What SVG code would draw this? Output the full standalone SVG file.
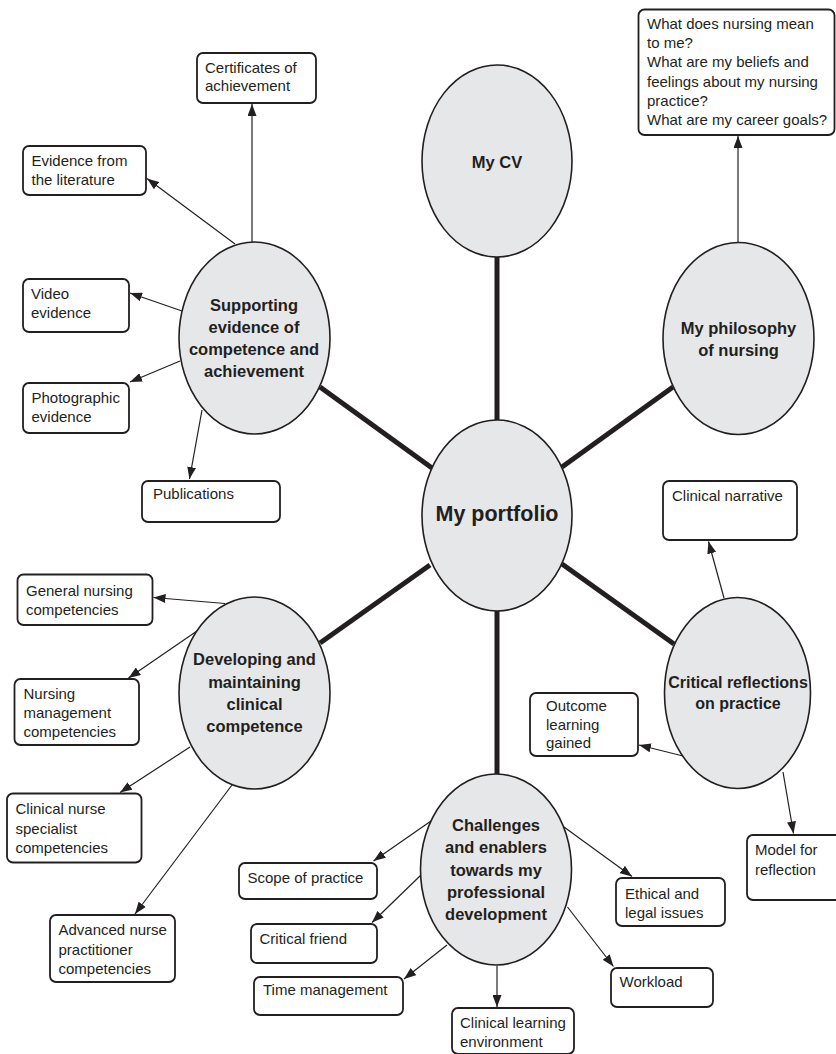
<svg xmlns="http://www.w3.org/2000/svg" width="836" height="1054" viewBox="0 0 836 1054">
<style>
.bg{fill:#ffffff}
.hub{stroke:#231f20;stroke-width:5;fill:none}
.arr{stroke:#231f20;stroke-width:1.2;fill:none;marker-end:url(#ah)}
.ell{fill:#e6e7e8;stroke:#231f20;stroke-width:1.6}
.box{fill:#ffffff;stroke:#231f20;stroke-width:1.8}
.t{font-family:"Liberation Sans",Arial,sans-serif;font-size:15px;fill:#231f20}
.b{font-family:"Liberation Sans",Arial,sans-serif;font-size:16.5px;font-weight:bold;fill:#231f20;text-anchor:middle}
.big{font-family:"Liberation Sans",Arial,sans-serif;font-size:21.5px;font-weight:bold;fill:#231f20;text-anchor:middle}
</style>
<defs>
<marker id="ah" markerUnits="userSpaceOnUse" markerWidth="12" markerHeight="9" refX="12" refY="4.5" orient="auto">
<path d="M0,0 L12,4.5 L0,9 z" fill="#231f20"/>
</marker>
</defs>
<rect class="bg" x="0" y="0" width="836" height="1054"/>
<g id="connectors">
<line class="hub" x1="497" y1="257" x2="497" y2="420"/>
<line class="hub" x1="497" y1="611" x2="497" y2="774"/>
<line class="hub" x1="320" y1="387" x2="432" y2="468"/>
<line class="hub" x1="673" y1="387" x2="562" y2="467"/>
<line class="hub" x1="320" y1="643" x2="430" y2="565"/>
<line class="hub" x1="674" y1="644" x2="562" y2="564"/>
<line class="arr" x1="252" y1="242" x2="252" y2="104"/>
<line class="arr" x1="235" y1="244" x2="147" y2="178.5"/>
<line class="arr" x1="182" y1="311" x2="130" y2="293"/>
<line class="arr" x1="180" y1="361" x2="130" y2="382"/>
<line class="arr" x1="202" y1="410" x2="189.5" y2="479"/>
<line class="arr" x1="738" y1="243" x2="738" y2="136"/>
<line class="arr" x1="724" y1="598" x2="708.5" y2="541.5"/>
<line class="arr" x1="683" y1="756" x2="639" y2="745"/>
<line class="arr" x1="783" y1="772" x2="793.5" y2="833.5"/>
<line class="arr" x1="225" y1="603.5" x2="153.5" y2="597.5"/>
<line class="arr" x1="197" y1="631" x2="128.5" y2="678"/>
<line class="arr" x1="190" y1="747" x2="120" y2="792.5"/>
<line class="arr" x1="232" y1="785" x2="135" y2="914"/>
<line class="arr" x1="431" y1="821" x2="373.5" y2="861"/>
<line class="arr" x1="421" y1="875" x2="372" y2="922.5"/>
<line class="arr" x1="447" y1="945" x2="404" y2="979"/>
<line class="arr" x1="497" y1="966" x2="497" y2="1007"/>
<line class="arr" x1="564" y1="827" x2="632" y2="876.5"/>
<line class="arr" x1="567.5" y1="907" x2="613.5" y2="966.5"/>
</g>
<g id="n-portfolio"><ellipse class="ell" cx="497" cy="515.5" rx="75" ry="95.5"/><text class="big" x="497" y="521">My portfolio</text></g>
<g id="n-cv"><ellipse class="ell" cx="497" cy="161" rx="75" ry="96"/><text class="b" x="497" y="168">My CV</text></g>
<g id="n-philosophy"><ellipse class="ell" cx="738.5" cy="338.5" rx="75.5" ry="96"/><text class="b" x="738.5" y="334">My philosophy</text><text class="b" x="738.5" y="355.5">of nursing</text></g>
<g id="n-supporting"><ellipse class="ell" cx="254.5" cy="338" rx="75.5" ry="96"/><text class="b" x="254" y="311">Supporting</text><text class="b" x="254" y="333">evidence of</text><text class="b" x="254" y="355">competence and</text><text class="b" x="254" y="377">achievement</text></g>
<g id="n-developing"><ellipse class="ell" cx="254.5" cy="693" rx="75.5" ry="96"/><text class="b" x="254.5" y="665">Developing and</text><text class="b" x="254.5" y="687.5">maintaining</text><text class="b" x="254.5" y="710">clinical</text><text class="b" x="254.5" y="732">competence</text></g>
<g id="n-challenges"><ellipse class="ell" cx="496" cy="869.5" rx="75.5" ry="95.5"/><text class="b" x="496" y="831">Challenges</text><text class="b" x="496" y="853">and enablers</text><text class="b" x="496" y="876">towards my</text><text class="b" x="496" y="898">professional</text><text class="b" x="496" y="920">development</text></g>
<g id="n-critical"><ellipse class="ell" cx="737.5" cy="693" rx="73" ry="95.5"/><text class="b" x="738" y="687.5" style="font-size:16px">Critical reflections</text><text class="b" x="738" y="709" style="font-size:16px">on practice</text></g>
<g id="n-certificates"><rect class="box" x="197" y="53" width="119" height="50" rx="6"/><text class="t" x="205" y="72.5">Certificates of</text><text class="t" x="205" y="91">achievement</text></g>
<g id="n-literature"><rect class="box" x="23" y="146" width="123" height="49" rx="6"/><text class="t" x="31.5" y="166">Evidence from</text><text class="t" x="31.5" y="185">the literature</text></g>
<g id="n-video"><rect class="box" x="23" y="279" width="106" height="53" rx="6"/><text class="t" x="31" y="299">Video</text><text class="t" x="31" y="318">evidence</text></g>
<g id="n-photo"><rect class="box" x="23" y="383" width="106" height="50" rx="6"/><text class="t" x="31.5" y="403">Photographic</text><text class="t" x="31.5" y="422">evidence</text></g>
<g id="n-publications"><rect class="box" x="142" y="481" width="138" height="41" rx="6"/><text class="t" x="153" y="498.5">Publications</text></g>
<g id="n-questions"><rect class="box" x="638.5" y="9.5" width="196" height="125.5" rx="6"/><text class="t" x="647" y="29">What does nursing mean</text><text class="t" x="647" y="48">to me?</text><text class="t" x="647" y="67">What are my beliefs and</text><text class="t" x="647" y="86.5">feelings about my nursing</text><text class="t" x="647" y="105.5">practice?</text><text class="t" x="647" y="125">What are my career goals?</text></g>
<g id="n-narrative"><rect class="box" x="663" y="481" width="134" height="59" rx="6"/><text class="t" x="672" y="501">Clinical narrative</text></g>
<g id="n-outcome"><rect class="box" x="530" y="693" width="108" height="63" rx="6"/><text class="t" x="546" y="711">Outcome</text><text class="t" x="546" y="729.5">learning</text><text class="t" x="546" y="748">gained</text></g>
<g id="n-model"><rect class="box" x="747" y="835" width="95" height="65" rx="6"/><text class="t" x="755" y="854.5">Model for</text><text class="t" x="755" y="874.5">reflection</text></g>
<g id="n-general"><rect class="box" x="17.5" y="574.5" width="135" height="50.5" rx="6"/><text class="t" x="26" y="596">General nursing</text><text class="t" x="26" y="614.5">competencies</text></g>
<g id="n-management"><rect class="box" x="14.5" y="679" width="124.5" height="66" rx="6"/><text class="t" x="23.5" y="698.5">Nursing</text><text class="t" x="23.5" y="717.5">management</text><text class="t" x="23.5" y="737">competencies</text></g>
<g id="n-cns"><rect class="box" x="7" y="793.5" width="134.5" height="69" rx="6"/><text class="t" x="15.5" y="814">Clinical nurse</text><text class="t" x="15.5" y="833.5">specialist</text><text class="t" x="15.5" y="852.5">competencies</text></g>
<g id="n-advanced"><rect class="box" x="50" y="915" width="125" height="67" rx="6"/><text class="t" x="58.5" y="935">Advanced nurse</text><text class="t" x="58.5" y="954.5">practitioner</text><text class="t" x="58.5" y="973.5">competencies</text></g>
<g id="n-scope"><rect class="box" x="239" y="863" width="138" height="36" rx="6"/><text class="t" x="247.5" y="882.5">Scope of practice</text></g>
<g id="n-friend"><rect class="box" x="251" y="924" width="126" height="39" rx="6"/><text class="t" x="259.5" y="944">Critical friend</text></g>
<g id="n-time"><rect class="box" x="254" y="977" width="149" height="38" rx="6"/><text class="t" x="263" y="995">Time management</text></g>
<g id="n-environment"><rect class="box" x="452" y="1008" width="122" height="46" rx="6"/><text class="t" x="460" y="1028">Clinical learning</text><text class="t" x="460" y="1047">environment</text></g>
<g id="n-ethical"><rect class="box" x="616" y="878" width="109" height="48" rx="6"/><text class="t" x="625" y="898.5">Ethical and</text><text class="t" x="625" y="917.5">legal issues</text></g>
<g id="n-workload"><rect class="box" x="611" y="968" width="102" height="39" rx="6"/><text class="t" x="619.5" y="987">Workload</text></g>
</svg>
